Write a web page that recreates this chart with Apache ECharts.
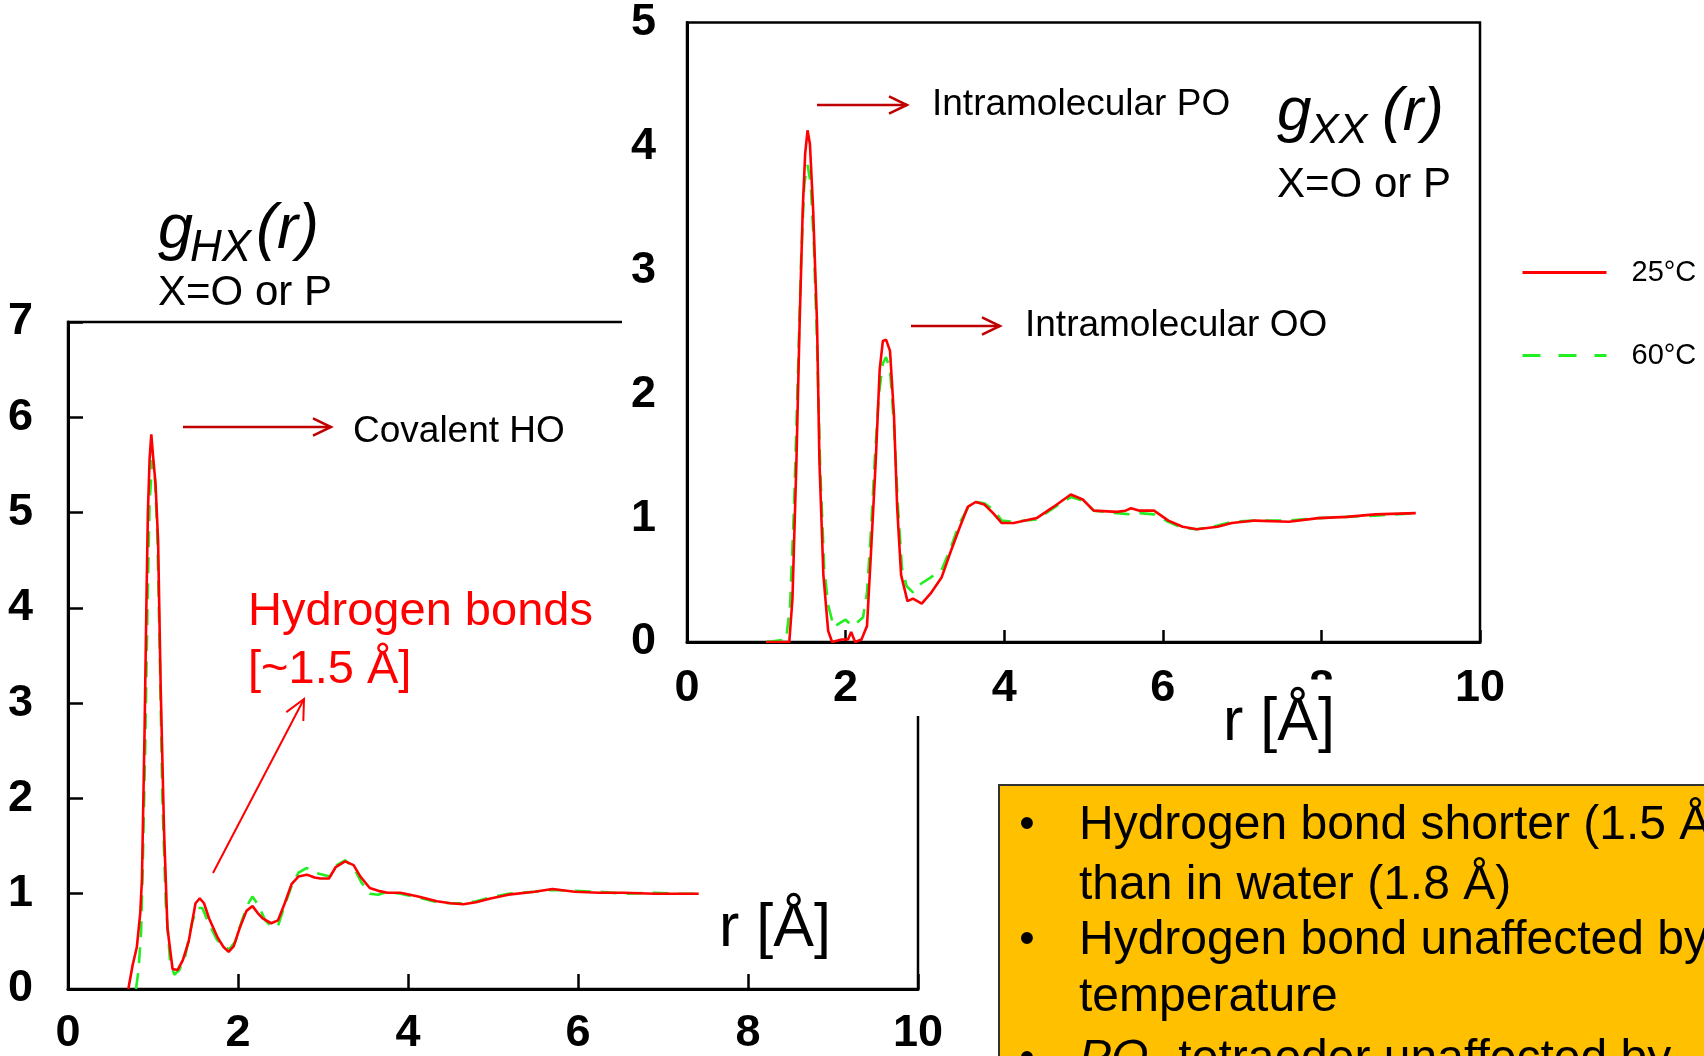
<!DOCTYPE html>
<html><head><meta charset="utf-8">
<script src="https://cdn.jsdelivr.net/npm/echarts@6/dist/echarts.min.js"></script>
<style>html,body{margin:0;padding:0;background:#fff;overflow:hidden}#c{width:1704px;height:1056px;}</style>
</head><body><div id="c"></div>
<script>
// ---------------- DATA ----------------
// g_HX(r), 25°C  [r (Å), g]
const hx25 = [[0.71,0],[0.76,0.25],[0.81,0.44],[0.85,0.8],[0.87,1.15],[0.90,2.67],[0.925,4.19],[0.94,5.0],[0.96,5.56],[0.98,5.82],[1.0,5.6],[1.03,5.3],[1.06,4.7],[1.09,3.18],[1.13,1.66],[1.17,0.64],[1.23,0.21],[1.29,0.2],[1.35,0.3],[1.42,0.5],[1.50,0.9],[1.55,0.95],[1.60,0.9],[1.66,0.74],[1.76,0.54],[1.83,0.44],[1.89,0.39],[1.95,0.45],[2.02,0.64],[2.10,0.82],[2.17,0.87],[2.23,0.8],[2.29,0.74],[2.39,0.69],[2.47,0.72],[2.55,0.9],[2.63,1.10],[2.71,1.18],[2.81,1.2],[2.90,1.17],[2.97,1.16],[3.07,1.16],[3.15,1.28],[3.26,1.34],[3.36,1.30],[3.44,1.18],[3.55,1.06],[3.65,1.03],[3.76,1.01],[3.91,1.01],[4.12,0.97],[4.34,0.92],[4.50,0.90],[4.65,0.89],[4.80,0.91],[4.97,0.95],[5.18,0.99],[5.49,1.02],[5.70,1.05],[5.96,1.02],[6.25,1.01],[6.54,1.01],[6.90,1.0],[7.20,1.0],[7.42,1.0]];
// g_HX(r), 60°C
const hx60 = [[0.80,0],[0.83,0.2],[0.86,0.6],[0.88,1.3],[0.91,2.6],[0.935,4.0],[0.96,5.1],[0.99,5.55],[1.02,5.4],[1.05,4.8],[1.08,3.5],[1.11,2.0],[1.15,0.9],[1.20,0.3],[1.25,0.15],[1.31,0.2],[1.38,0.35],[1.46,0.7],[1.52,0.85],[1.58,0.85],[1.65,0.7],[1.75,0.52],[1.83,0.44],[1.90,0.42],[1.97,0.5],[2.04,0.7],[2.11,0.88],[2.17,0.97],[2.24,0.88],[2.32,0.72],[2.40,0.65],[2.47,0.66],[2.55,0.88],[2.63,1.08],[2.71,1.22],[2.81,1.27],[2.90,1.22],[3.00,1.2],[3.08,1.18],[3.16,1.3],[3.26,1.35],[3.36,1.28],[3.45,1.12],[3.55,1.0],[3.65,0.99],[3.76,1.02],[3.91,1.0],[4.12,0.96],[4.34,0.91],[4.50,0.90],[4.65,0.9],[4.80,0.92],[4.97,0.96],[5.18,1.0],[5.49,1.02],[5.70,1.04],[5.96,1.03],[6.25,1.02],[6.54,1.0],[6.90,1.01],[7.20,1.0],[7.42,1.0]];
// g_XX(r), 25°C
const xx25 = [[1.00,0],[1.29,0],[1.33,0.35],[1.38,1.46],[1.42,2.57],[1.46,3.5],[1.49,3.94],[1.52,4.13],[1.55,4.02],[1.59,3.5],[1.64,2.57],[1.67,1.46],[1.72,0.54],[1.78,0.09],[1.83,0],[1.95,0.02],[2.03,0.02],[2.07,0.08],[2.12,0.0],[2.20,0.02],[2.27,0.13],[2.32,0.72],[2.38,1.46],[2.43,2.2],[2.47,2.43],[2.51,2.44],[2.56,2.35],[2.61,1.83],[2.65,1.09],[2.70,0.54],[2.78,0.33],[2.85,0.35],[2.96,0.31],[3.07,0.39],[3.21,0.52],[3.32,0.72],[3.43,0.91],[3.54,1.09],[3.64,1.13],[3.75,1.11],[3.86,1.04],[3.97,0.96],[4.12,0.96],[4.41,1.0],[4.62,1.09],[4.84,1.19],[4.99,1.15],[5.13,1.06],[5.42,1.05],[5.53,1.06],[5.60,1.08],[5.71,1.06],[5.89,1.06],[6.07,0.98],[6.25,0.93],[6.43,0.91],[6.69,0.93],[6.87,0.96],[7.16,0.98],[7.59,0.97],[7.96,1.0],[8.32,1.01],[8.68,1.03],[9.19,1.04]];
// g_XX(r), 60°C
const xx60 = [[1.00,0],[1.25,0.02],[1.30,0.3],[1.35,1.1],[1.40,2.2],[1.44,3.1],[1.48,3.7],[1.52,3.85],[1.56,3.7],[1.60,3.2],[1.64,2.4],[1.68,1.4],[1.73,0.6],[1.78,0.3],[1.85,0.12],[1.92,0.15],[2.0,0.18],[2.08,0.13],[2.15,0.16],[2.22,0.2],[2.27,0.4],[2.32,0.9],[2.37,1.5],[2.42,2.0],[2.47,2.25],[2.51,2.3],[2.56,2.2],[2.61,1.75],[2.66,1.1],[2.71,0.6],[2.77,0.45],[2.85,0.4],[2.95,0.47],[3.07,0.52],[3.21,0.58],[3.32,0.75],[3.43,0.95],[3.54,1.08],[3.64,1.13],[3.75,1.12],[3.86,1.07],[3.97,0.98],[4.12,0.97],[4.41,0.99],[4.62,1.08],[4.84,1.17],[4.99,1.14],[5.13,1.06],[5.42,1.04],[5.60,1.03],[5.71,1.04],[5.89,1.03],[6.07,0.97],[6.25,0.92],[6.43,0.91],[6.69,0.94],[6.87,0.97],[7.16,0.98],[7.59,0.98],[7.96,1.0],[8.32,1.01],[8.68,1.02],[9.19,1.04]];

const seriesNames = ['25°C','60°C'];
const hxYTicks = {min:0,max:7,interval:1};
const xxYTicks = {min:0,max:5,interval:1};
const rTicks = {min:0,max:10,interval:2};
const bulletLines = ['Hydrogen bond shorter (1.5 Å)','than in water (1.8 Å)','Hydrogen bond unaffected by','temperature'];

// ---------------- STYLE ----------------
const FF = '"Liberation Sans", Arial, Helvetica, sans-serif';
const RED = '#ff0000', GREEN = '#22ee22', DARKRED = '#c00000';

function axisLabel(margin){return {fontSize:45,fontWeight:'bold',color:'#000',fontFamily:FF,margin:margin};}
function lineSeries(name,data,xi,color,dashed,z){
  return {type:'line',name:name,data:data,xAxisIndex:xi,yAxisIndex:xi,symbol:'none',showSymbol:false,
    animation:false,z:z,color:color,itemStyle:{color:color},
    lineStyle:{color:color,width:2.6,type:dashed?[16,10]:'solid'}};
}
function txt(text,x,y,size,opts){
  opts=opts||{};
  return {type:'text',x:x,y:y,z:20,style:Object.assign({text:text,fontSize:size,fontFamily:FF,fill:opts.fill||'#000',
    fontStyle:opts.italic?'italic':'normal',align:opts.align||'left',verticalAlign:'middle'},opts.style||{})};
}
function arrow(x1,y1,x2,y2,color,w,head){
  const dx=x2-x1, dy=y2-y1, L=Math.sqrt(dx*dx+dy*dy), ux=dx/L, uy=dy/L;
  const a=0.45, c=Math.cos(a), s=Math.sin(a);
  const p1=[x2-head*(ux*c-uy*s), y2-head*(uy*c+ux*s)];
  const p2=[x2-head*(ux*c+uy*s), y2-head*(uy*c-ux*s)];
  return [
    {type:'line',z:20,shape:{x1:x1,y1:y1,x2:x2,y2:y2},style:{stroke:color,lineWidth:w}},
    {type:'polyline',z:20,shape:{points:[p1,[x2,y2],p2]},style:{stroke:color,lineWidth:w,fill:null}}
  ];
}

const graphics = [
  {type:'rect',z:5,shape:{x:622,y:0,width:900,height:716},style:{fill:'#fff'}},
  {type:'rect',z:5,shape:{x:999,y:785,width:800,height:400},style:{fill:'#ffc000',stroke:'#333',lineWidth:2}},
  // left title
  txt('g',158,230,63,{italic:true}),
  txt('HX',190,249,44,{italic:true}),
  txt('(r)',256,230,63,{italic:true}),
  txt('X=O or P',158,293,42),
  // right title
  txt('g',1277,113,62,{italic:true}),
  txt('XX',1310,131,43,{italic:true}),
  txt('(r)',1382,113,62,{italic:true}),
  txt('X=O or P',1277,185,42),
  // annotations
  txt('Covalent HO',353,432,37),
  txt('Hydrogen bonds',248,612,47,{fill:RED}),
  txt('[~1.5 Å]',248,670,47,{fill:RED}),
  txt('Intramolecular PO',932,105,37),
  txt('Intramolecular OO',1025,326,37),
  txt('r [Å]',1219,723,61,{style:{backgroundColor:'#fff',padding:[26,4,0,4]}}),
  txt('r [Å]',719,929,61),
  ...arrow(183,427,331,427,DARKRED,2.5,20),
  ...arrow(213,873,304,699,RED,2,22),
  ...arrow(817,105,907,105,DARKRED,2.5,20),
  ...arrow(911,326,1000,326,DARKRED,2.5,20)
];
const lineY=[826,886,941,998];
bulletLines.forEach((t,i)=>{ graphics.push(txt(t,1079,lineY[i],48)); });
[826,941,1060].forEach(y=>graphics.push(txt('•',1027,y,44,{align:'center'})));
graphics.push({type:'text',x:1079,y:1060,z:20,style:{text:'{i|PO}{s|4} tetraeder unaffected by',fontSize:48,fontFamily:FF,fill:'#000',verticalAlign:'middle',
  rich:{i:{fontStyle:'italic',fontSize:48,fontFamily:FF},s:{fontSize:30,fontFamily:FF,verticalAlign:'bottom',padding:[0,0,-20,0]}}}});

const chart = echarts.init(document.getElementById('c'),null,{renderer:'canvas'});
chart.setOption({
  animation:false,
  backgroundColor:'#fff',
  grid:[
    {left:68,top:322,width:850,height:667,show:true,borderColor:'#000',borderWidth:2.5,z:1},
    {left:687,top:22,width:793,height:620,show:true,borderColor:'#000',borderWidth:2.5,backgroundColor:'#fff',z:6}
  ],
  xAxis:[
    {type:'value',gridIndex:0,min:rTicks.min,max:rTicks.max,interval:rTicks.interval,z:1,
      axisLine:{lineStyle:{color:'#000',width:3}},axisTick:{inside:true,length:15,lineStyle:{color:'#000',width:2.5}},
      splitLine:{show:false},axisLabel:axisLabel(22)},
    {type:'value',gridIndex:1,min:rTicks.min,max:rTicks.max,interval:rTicks.interval,z:6,
      axisLine:{lineStyle:{color:'#000',width:3}},axisTick:{inside:true,length:12,lineStyle:{color:'#000',width:2.5}},
      splitLine:{show:false},axisLabel:axisLabel(24)}
  ],
  yAxis:[
    {type:'value',gridIndex:0,min:hxYTicks.min,max:hxYTicks.max,interval:hxYTicks.interval,z:1,
      axisLine:{show:true,lineStyle:{color:'#000',width:3}},axisTick:{show:true,inside:true,length:15,lineStyle:{color:'#000',width:2.5}},
      splitLine:{show:false},axisLabel:axisLabel(35)},
    {type:'value',gridIndex:1,min:xxYTicks.min,max:xxYTicks.max,interval:xxYTicks.interval,z:6,
      axisLine:{show:true,lineStyle:{color:'#000',width:3}},axisTick:{show:false},
      splitLine:{show:false},axisLabel:axisLabel(31)}
  ],
  legend:{
    data:[{name:seriesNames[0]},{name:seriesNames[1],lineStyle:{type:[18,18]}}],
    orient:'vertical',left:1516,top:253,itemWidth:84,itemHeight:30,itemGap:54,z:20,
    itemStyle:{opacity:0},lineStyle:{width:3},
    textStyle:{fontSize:29,fontFamily:FF,color:'#000',padding:[0,0,0,20]}},
  series:[
    lineSeries(seriesNames[1],hx60,0,GREEN,true,2),
    lineSeries(seriesNames[0],hx25,0,RED,false,3),
    lineSeries(seriesNames[1],xx60,1,GREEN,true,7),
    lineSeries(seriesNames[0],xx25,1,RED,false,8)
  ],
  graphic:{elements:graphics}
});
</script></body></html>
